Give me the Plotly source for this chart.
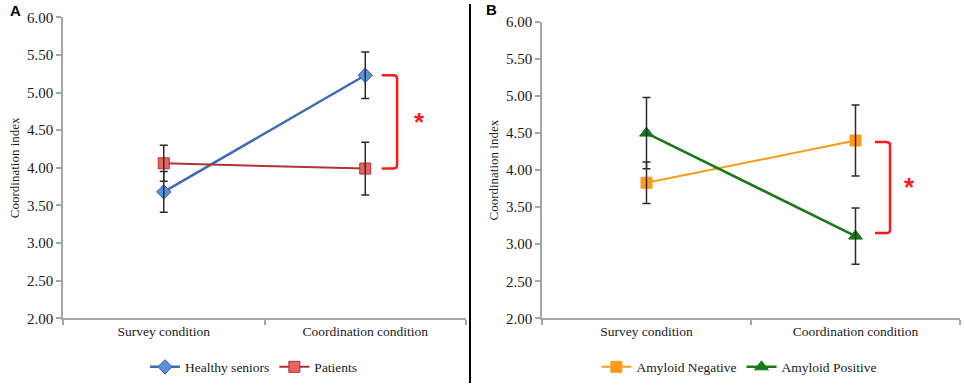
import plotly.graph_objects as go

conditions = ["Survey condition", "Coordination condition"]
y_ticks = [2.0, 2.5, 3.0, 3.5, 4.0, 4.5, 5.0, 5.5, 6.0]
y_tick_labels = ["2.00", "2.50", "3.00", "3.50", "4.00", "4.50", "5.00", "5.50", "6.00"]

# Panel A
healthy_mean = [3.68, 5.23]
healthy_err = [0.27, 0.31]
patients_mean = [4.06, 3.99]
patients_err = [0.24, 0.35]

# Panel B
amy_neg_mean = [3.83, 4.40]
amy_neg_err = [0.28, 0.48]
amy_pos_mean = [4.50, 3.11]
amy_pos_err = [0.48, 0.38]

xpos = [0, 1]
SERIF = "Liberation Serif"
SANS = "Liberation Sans"

fig = go.Figure()

def add_series(name, mean, xa, ya, legend, line_color, lw, msym, mcol, mline, msize):
    fig.add_trace(go.Scatter(
        x=xpos, y=mean, name=name, mode="lines+markers",
        line=dict(color=line_color, width=lw),
        marker=dict(symbol=msym, color=mcol, size=msize,
                    line=dict(color=mline, width=1)),
        xaxis=xa, yaxis=ya, legend=legend))

def add_err(mean, err, xa, ya):
    fig.add_trace(go.Scatter(
        x=xpos, y=mean, mode="markers", showlegend=False, hoverinfo="skip",
        marker=dict(size=1, color="rgba(0,0,0,0)"),
        error_y=dict(type="data", array=err, visible=True, color="#2b2b2b",
                     thickness=1.5, width=4),
        xaxis=xa, yaxis=ya))

add_series("Healthy seniors", healthy_mean, "x", "y", "legend",
           "#3a6db5", 2.5, "diamond", "#5b91da", "#2f5f9f", 11)
add_series("Patients", patients_mean, "x", "y", "legend",
           "#b53232", 2, "square", "#e36464", "#b03030", 11)
add_series("Amyloid Negative", amy_neg_mean, "x2", "y2", "legend2",
           "#ff9a1a", 2, "square", "#ff9a1a", "#ff9a1a", 11)
add_series("Amyloid Positive", amy_pos_mean, "x2", "y2", "legend2",
           "#177a17", 2.5, "triangle-up", "#177a17", "#177a17", 12)

add_err(healthy_mean, healthy_err, "x", "y")
add_err(patients_mean, patients_err, "x", "y")
add_err(amy_neg_mean, amy_neg_err, "x2", "y2")
add_err(amy_pos_mean, amy_pos_err, "x2", "y2")

xaxis_common = dict(
    range=[-0.5, 1.5], tickmode="array", tickvals=xpos, ticktext=conditions,
    ticks="", showgrid=False, zeroline=False, showline=True,
    linecolor="#a6a6a6", linewidth=1.5,
    tickfont=dict(family=SERIF, size=13.5, color="#1a1a1a"),
    minor=dict(tick0=-0.5, dtick=1, ticks="outside", ticklen=5,
               tickcolor="#a6a6a6", tickwidth=1.5, showgrid=False),
)
yaxis_common = dict(
    range=[2.0, 6.0], tickmode="array", tickvals=y_ticks, ticktext=y_tick_labels,
    ticks="outside", ticklen=5, tickcolor="#a6a6a6", tickwidth=1.5,
    showgrid=False, zeroline=False, showline=True, linecolor="#a6a6a6", linewidth=1.5,
    tickfont=dict(family=SERIF, size=15, color="#1a1a1a"),
    title=dict(text="Coordination index", font=dict(family=SERIF, size=13, color="#1a1a1a"),
               standoff=4),
)

fig.update_layout(
    width=964, height=388,
    font=dict(family=SERIF),
    margin=dict(l=0, r=0, t=0, b=0, autoexpand=False),
    paper_bgcolor="white", plot_bgcolor="white",
    xaxis=dict(domain=[63/964, 466/964], anchor="y", **xaxis_common),
    yaxis=dict(domain=[1-318.3/388, 1-17.3/388], anchor="x", **yaxis_common),
    xaxis2=dict(domain=[542/964, 960/964], anchor="y2", **xaxis_common),
    yaxis2=dict(domain=[1-318.3/388, 1-22/388], anchor="x2", **yaxis_common),
    legend=dict(orientation="h", x=0.2635, y=0.054, xanchor="center", yanchor="middle",
                font=dict(family=SERIF, size=13.5, color="#1a1a1a"), bgcolor="rgba(0,0,0,0)",
                itemwidth=30),
    legend2=dict(orientation="h", x=0.767, y=0.054, xanchor="center", yanchor="middle",
                 font=dict(family=SERIF, size=13.5, color="#1a1a1a"), bgcolor="rgba(0,0,0,0)",
                 itemwidth=30),
    showlegend=True,
)

def bracket(xref, yref, x0, x1, ytop, ybot):
    dx = 0.02
    dy = 0.04
    path = (f"M {x0},{ytop} L {x1-dx},{ytop} Q {x1},{ytop} {x1},{ytop-dy} "
            f"L {x1},{ybot+dy} Q {x1},{ybot} {x1-dx},{ybot} L {x0},{ybot}")
    fig.add_shape(type="path", path=path, xref=xref, yref=yref,
                  line=dict(color="#ff1a1a", width=2.5))

bracket("x", "y", 1.082, 1.158, healthy_mean[1], patients_mean[1])
bracket("x2", "y2", 1.093, 1.165, amy_neg_mean[1] - 0.02, amy_pos_mean[1] + 0.04)

fig.add_annotation(x=1.267, y=(healthy_mean[1] + patients_mean[1]) / 2 + 0.0, xref="x", yref="y",
                   text="<b>*</b>", showarrow=False,
                   font=dict(family=SANS, size=26, color="#ff1a1a"))
fig.add_annotation(x=1.256, y=(amy_neg_mean[1] + amy_pos_mean[1]) / 2 + 0.02, xref="x2", yref="y2",
                   text="<b>*</b>", showarrow=False,
                   font=dict(family=SANS, size=26, color="#ff1a1a"))

# divider
fig.add_shape(type="line", xref="paper", yref="paper", x0=470/964, x1=470/964,
              y0=1-4/388, y1=1-383/388, line=dict(color="black", width=2))

# panel labels
fig.add_annotation(x=8/964, y=1-10/388, xref="paper", yref="paper", text="<b>A</b>",
                   showarrow=False, xanchor="left", yanchor="middle",
                   font=dict(family=SANS, size=15, color="black"))
fig.add_annotation(x=484/964, y=1-9/388, xref="paper", yref="paper", text="<b>B</b>",
                   showarrow=False, xanchor="left", yanchor="middle",
                   font=dict(family=SANS, size=15, color="black"))

fig.write_html("out.html", config={"displayModeBar": False},
               post_script="document.body.style.margin='0';document.body.style.overflow='hidden';")
